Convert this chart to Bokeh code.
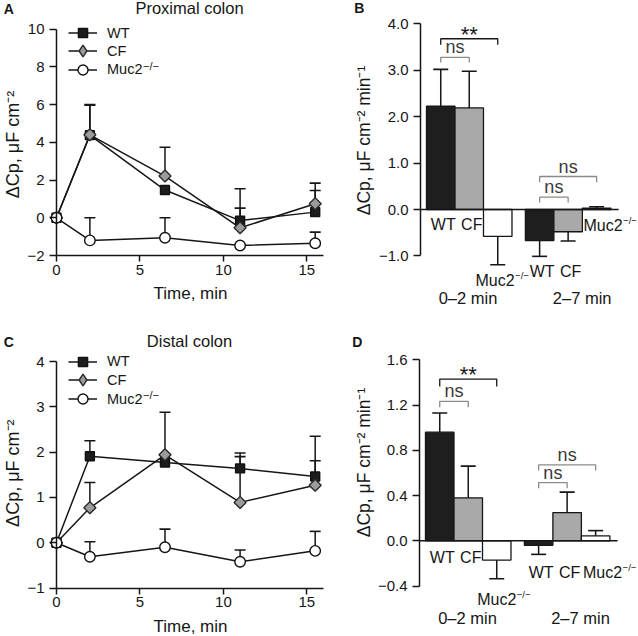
import numpy as np
from bokeh.plotting import figure
from bokeh.layouts import column, row
from bokeh.models import Range1d, FixedTicker, CustomJSTickFormatter, Label, Legend, LegendItem
from bokeh.embed import file_html
from bokeh.resources import INLINE

nan = np.nan

# ---------------- data ----------------
time_min = [0, 2, 6.5, 11, 15.5]

prox_wt = [0, 4.38, 1.47, -0.15, 0.30]
prox_wt_err = [nan, 6.00, nan, 0.51, 1.45]
prox_cf = [0, 4.40, 2.21, -0.53, 0.74]
prox_cf_err = [nan, 5.97, 3.74, 1.54, 1.84]
prox_muc2 = [0, -1.20, -1.06, -1.47, -1.35]
prox_muc2_err = [nan, 0.00, 0.00, nan, -0.76]

dist_wt = [0, 1.91, 1.77, 1.64, 1.46]
dist_wt_err = [nan, 2.25, nan, 1.98, 1.81]
dist_cf = [0, 0.77, 1.94, 0.89, 1.27]
dist_cf_err = [nan, 1.33, 2.88, 1.90, 2.35]
dist_muc2 = [0, -0.31, -0.10, -0.42, -0.18]
dist_muc2_err = [nan, 0.02, 0.30, -0.16, 0.25]

genotypes = ["WT", "CF", "Muc2"]
periods = ["0\u20132 min", "2\u20137 min"]

rate_prox_02 = [2.23, 2.19, -0.58]
rate_prox_02_err = [3.02, 2.98, -1.19]
rate_prox_27 = [-0.67, -0.48, 0.03]
rate_prox_27_err = [-1.01, -0.68, 0.06]

rate_dist_02 = [0.96, 0.38, -0.17]
rate_dist_02_err = [1.13, 0.66, -0.335]
rate_dist_27 = [-0.04, 0.25, 0.044]
rate_dist_27_err = [-0.12, 0.43, 0.09]

# comparisons per period: (genotype a, genotype b, label)
comparisons_02 = [("WT", "CF", "ns"), ("WT", "Muc2", "**")]
comparisons_27 = [("WT", "CF", "ns"), ("WT", "Muc2", "ns")]

time_ticks = [0, 5, 10, 15]
prox_yticks = [-2, 0, 2, 4, 6, 8, 10]
dist_yticks = [-1, 0, 1, 2, 3, 4]
rate_prox_yticks = [-1, 0, 1, 2, 3, 4]
rate_dist_yticks = [-0.4, 0, 0.4, 0.8, 1.2, 1.6]

# ---------------- styling ----------------
FONT = "Liberation Sans"
INK = "#161616"
GRAY_LINE = "#8a8a8a"
BAR_FILL = {"WT": "#1e1e1e", "CF": "#a9a9a9", "Muc2": "white"}
STYLE = {
    "WT": dict(marker="square", size=9, fill_color="#1c1c1c", line_color="#111111", angle=0.0),
    "CF": dict(marker="square", size=8.5, fill_color="#9b9b9b", line_color="#2a2a2a", angle=np.pi / 4),
    "Muc2": dict(marker="circle", size=10.5, fill_color="white", line_color="#111111", angle=0.0),
}
LEGEND_GLYPH_H = {"WT": 23, "CF": 29, "Muc2": 25}
GROUP_LEFT = [0.21, 3.68]   # left edge of each period's bar group (bar width = 1)
SUP = "\u2212/\u2212"


class Geo:
    """Figure of W x H px placed at (ox, oy) of the page; value x0 sits at page px rx0, etc."""
    def __init__(self, W, H, ox, oy, x0, rx0, sx, y0, ry0, sy):
        self.W, self.H, self.ox, self.oy, self.sx, self.sy = W, H, ox, oy, sx, sy
        self.xs = x0 - (rx0 - ox) / sx
        self.xe = self.xs + W / sx
        self.ys = y0 - (H - (ry0 - oy)) / sy
        self.ye = self.ys + H / sy

    def X(self, rx):
        return self.xs + (rx - self.ox) / self.sx

    def Y(self, ry):
        return self.ys + (self.H - (ry - self.oy)) / self.sy


def make_fig(g, xaxis):
    p = figure(width=g.W, height=g.H, x_range=Range1d(g.xs, g.xe), y_range=Range1d(g.ys, g.ye),
               output_backend="svg", toolbar_location=None,
               x_axis_location="below" if xaxis else None,
               min_border_left=0, min_border_right=0, min_border_top=0,
               min_border_bottom=0, outline_line_color=None,
               background_fill_color="white", border_fill_color="white")
    p.xgrid.visible = False
    p.ygrid.visible = False
    for ax in p.axis:
        ax.axis_line_width = 1.5
        ax.axis_line_color = INK
        ax.major_tick_line_width = 1.5
        ax.major_tick_line_color = INK
        ax.major_tick_in = 0
        ax.major_tick_out = 7
        ax.minor_tick_line_color = None
        ax.major_label_text_font = FONT
        ax.major_label_text_font_size = "15px"
        ax.major_label_text_color = INK
        ax.major_label_standoff = 5
    p.yaxis.fixed_location = 0
    return p


def fmt(dec):
    return CustomJSTickFormatter(code=(
        "const s = Math.abs(tick).toFixed(%d); return (tick < -1e-9 ? '\\u2212' : '') + s;" % dec))


def text(p, x, y, s, size, align="center", bold=False, angle=0.0, color=INK):
    p.add_layout(Label(x=x, y=y, text=s, text_font=FONT, text_font_size=f"{size}px",
                       text_align=align, text_baseline="middle", angle=angle,
                       text_color=color, text_font_style="bold" if bold else "normal"))


def muc2_text(p, g, rx_left, ry, size, sup_size):
    text(p, g.X(rx_left), g.Y(ry), "Muc2", size, align="left")
    text(p, g.X(rx_left + 2.445 * size + 0.5), g.Y(ry - 5), SUP, sup_size, align="left")


def line_panel(g, series, yticks, ybounds, letter, title, pos):
    p = make_fig(g, True)
    p.yaxis.bounds = ybounds
    p.yaxis.ticker = FixedTicker(ticks=yticks)
    p.yaxis.formatter = fmt(0)
    p.xaxis.fixed_location = ybounds[0]
    p.xaxis.bounds = (0, 16)
    p.xaxis.ticker = FixedTicker(ticks=time_ticks)
    p.xaxis.formatter = fmt(0)
    p.xaxis.major_tick_out = 6
    p.xaxis.major_label_standoff = 3

    line_r = {}
    for name, (vals, errs) in series.items():
        line_r[name] = p.line(time_min, vals, line_color=INK, line_width=1.5)
    for name, (vals, errs) in series.items():
        v = np.array(vals, dtype=float)
        e = np.array(errs, dtype=float)
        t = np.array(time_min, dtype=float)
        p.segment(x0=t, y0=v, x1=t, y1=e, line_color=INK, line_width=1.5)
        p.scatter(x=t, y=e, marker="dash", size=11, line_color=INK, line_width=1.6)
    mark_r = {}
    for name in ["WT", "CF", "Muc2"]:
        vals, errs = series[name]
        st = STYLE[name]
        mark_r[name] = p.scatter(time_min, vals, marker=st["marker"], size=st["size"],
                                 angle=st["angle"], fill_color=st["fill_color"],
                                 line_color=st["line_color"], line_width=1.4)
    # legend-only diamond swatch for CF (legend glyphs are drawn unrotated); no visible point
    st = STYLE["CF"]
    cf_swatch = p.scatter(x=[nan], y=[nan], marker="diamond", fill_color=st["fill_color"],
                          line_color=st["line_color"], line_width=1.4)
    for n, cy in zip(genotypes, pos["leg_y"]):
        gh = LEGEND_GLYPH_H[n]
        rends = [line_r[n], cf_swatch if n == "CF" else mark_r[n]]
        cy_local = cy - g.oy
        leg = Legend(items=[LegendItem(label=n, renderers=rends, index=0)],
                     location=(68, g.H - (cy_local + gh / 2)),
                     glyph_width=29, glyph_height=gh, label_height=gh, spacing=0,
                     padding=0, margin=0, label_standoff=10, border_line_color=None,
                     background_fill_alpha=0, label_text_font=FONT,
                     label_text_font_size="14.5px", label_text_color=INK)
        p.add_layout(leg)
    text(p, g.X(142.5), g.Y(pos["leg_y"][2] - 4), SUP, 11, align="left")
    text(p, g.X(pos["letter"][0]), g.Y(pos["letter"][1]), letter, 14, bold=True)
    text(p, g.X(pos["title"][0]), g.Y(pos["title"][1]), title, 16.5)
    text(p, g.X(pos["ylabel"][0]), g.Y(pos["ylabel"][1]),
         "\u0394Cp, \u03bcF cm\u207b\u00b2", 18, angle=np.pi / 2)
    text(p, g.X(pos["xlabel"][0]), g.Y(pos["xlabel"][1]), "Time, min", 17)
    return p


def bar_panel(g, vals, errs, comps, yticks, ybounds, letter, pos):
    p = make_fig(g, False)
    p.yaxis.bounds = ybounds
    p.yaxis.ticker = FixedTicker(ticks=yticks)
    p.yaxis.formatter = fmt(1)
    centers = {}
    for gi, per in enumerate(periods):
        xs = [GROUP_LEFT[gi] + i + 0.5 for i in range(len(genotypes))]
        for i, n in enumerate(genotypes):
            centers[(gi, n)] = xs[i]
        p.vbar(x=xs, top=vals[gi], bottom=0, width=1.0,
               fill_color=[BAR_FILL[n] for n in genotypes], line_color=INK, line_width=1.3)
        p.segment(x0=xs, y0=vals[gi], x1=xs, y1=errs[gi], line_color=INK, line_width=1.5)
        p.scatter(x=xs, y=errs[gi], marker="dash", size=15, line_color=INK, line_width=1.6)
    # zero line
    p.segment(x0=[0], y0=[0], x1=[GROUP_LEFT[-1] + len(genotypes) + 0.27], y1=[0],
              line_color=INK, line_width=1.5)
    # significance brackets
    for gi in range(len(periods)):
        for ci, (a, b, lab) in enumerate(comps[gi]):
            top, leg = pos["brackets"][gi][ci]
            xa, xb = centers[(gi, a)], centers[(gi, b)]
            col = INK if lab == "**" else GRAY_LINE
            p.line([xa, xa, xb, xb], [leg, top, top, leg], line_color=col, line_width=1.3)
            dy = 4.5 if lab == "**" else 10.0
            text(p, (xa + xb) / 2, top + dy / g.sy, lab, 22 if lab == "**" else 18,
                 color=INK if lab == "**" else "#3a3a3a")
    # genotype labels
    for gi in range(len(periods)):
        for n in genotypes:
            if n == "Muc2":
                rx, ry = pos["muc2"][gi]
                muc2_text(p, g, rx, ry, 16, 9.5)
            else:
                ry = pos["wtcf_y"][gi]
                text(p, centers[(gi, n)] + 2.5 / g.sx, g.Y(ry), n, 16)
        text(p, g.X(pos["period"][gi][0]), g.Y(pos["period"][gi][1]), periods[gi], 16.5)
    text(p, g.X(pos["letter"][0]), g.Y(pos["letter"][1]), letter, 14, bold=True)
    text(p, g.X(pos["ylabel"][0]), g.Y(pos["ylabel"][1]),
         "\u0394Cp, \u03bcF cm\u207b\u00b2 min\u207b\u00b9", 17.5, angle=np.pi / 2)
    return p


# geometry in page pixels
gA = Geo(330, 316, 0, 0, 0, 56, 16.69, -2, 255, 18.86)
gB = Geo(308, 316, 330, 0, 0, 420, 28.5, 0, 209, 46.4)
gC = Geo(330, 320, 0, 316, 0, 56, 16.69, -1, 587.5, 45.3)
gD = Geo(308, 320, 330, 316, 0, 419, 28.5, 0, 540.3, 113.1)

pA = line_panel(gA, {"WT": (prox_wt, prox_wt_err), "CF": (prox_cf, prox_cf_err),
                     "Muc2": (prox_muc2, prox_muc2_err)},
                prox_yticks, (-2, 10), "A", "Proximal colon",
                dict(leg_y=[32.5, 50.8, 69.0], letter=(8.3, 8.3),
                     title=(189, 7.5), ylabel=(12, 144), xlabel=(190, 292.5)))

pC = line_panel(gC, {"WT": (dist_wt, dist_wt_err), "CF": (dist_cf, dist_cf_err),
                     "Muc2": (dist_muc2, dist_muc2_err)},
                dist_yticks, (-1, 4), "C", "Distal colon",
                dict(leg_y=[361.2, 379.8, 398.8], letter=(8.3, 341),
                     title=(189, 340.7), ylabel=(12, 472.7), xlabel=(190, 626.3)))

pB = bar_panel(gB, [rate_prox_02, rate_prox_27], [rate_prox_02_err, rate_prox_27_err],
               [comparisons_02, comparisons_27], rate_prox_yticks, (-1, 4), "B",
               dict(brackets=[[(3.28, 3.17), (3.68, 3.55)], [(0.265, 0.151), (0.711, 0.588)]],
                    muc2=[(475, 279.5), (583, 224.5)], wtcf_y=[224.2, 271.3],
                    period=[(467.5, 297.8), (581.7, 297.8)], letter=(358.7, 7.8),
                    ylabel=(363.5, 140)))

pD = bar_panel(gD, [rate_dist_02, rate_dist_27], [rate_dist_02_err, rate_dist_27_err],
               [comparisons_02, comparisons_27], rate_dist_yticks, (-0.4, 1.6), "D",
               dict(brackets=[[(1.232, 1.181), (1.429, 1.364)], [(0.515, 0.465), (0.672, 0.622)]],
                    muc2=[(476.7, 598.5), (582.5, 571.5)], wtcf_y=[557, 571.5],
                    period=[(467, 617), (580, 617)], letter=(356.7, 341),
                    ylabel=(363.3, 462)))

layout = column(row(pA, pB), row(pC, pD))
open("out.html", "w").write(file_html(layout, INLINE))
